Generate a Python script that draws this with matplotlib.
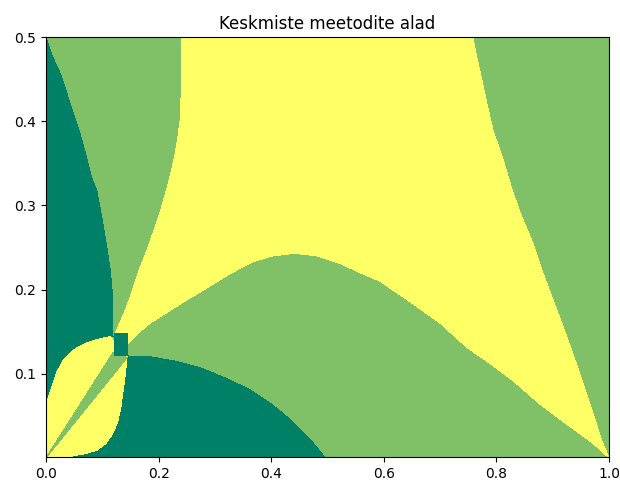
#!/usr/bin/env python3
"""Keskmiste meetodite alad: region map, regions traced as boundary polygons."""

import matplotlib

matplotlib.use("Agg")
import matplotlib.pyplot as plt
import numpy as np

# colour level of each region on the 'summer' colormap
LEVEL_DARK = 0.0
LEVEL_MID = 0.5
LEVEL_LIGHT = 1.0

# left dark wedge: outer curve from (0, 0.5) down to the small square
left_dark_x = [0.0, 0.010, 0.025, 0.037, 0.048, 0.060, 0.072, 0.081, 0.090, 0.099,
               0.108, 0.114, 0.118, 0.118, 0.119]
left_dark_y = [0.5, 0.479, 0.457, 0.433, 0.410, 0.386, 0.357, 0.333, 0.318, 0.286,
               0.250, 0.223, 0.195, 0.163, 0.144]

# yellow lens near the origin: upper edge (from x = 0) and right edge (top to origin)
lens_top_x = [0.0, 0.004, 0.012, 0.020, 0.030, 0.042, 0.055, 0.070, 0.083, 0.100, 0.114]
lens_top_y = [0.056, 0.072, 0.088, 0.103, 0.115, 0.124, 0.131, 0.136, 0.139, 0.142, 0.144]
lens_right_x = [0.144, 0.141, 0.137, 0.133, 0.127, 0.118, 0.106, 0.090, 0.070, 0.045,
                0.020, 0.0]
lens_right_y = [0.120, 0.100, 0.080, 0.060, 0.042, 0.028, 0.017, 0.009, 0.005, 0.002,
                0.001, 0.0]

# thin mid-green band inside the lens
band_x = [0.0, 0.119, 0.144]
band_y = [0.0, 0.125, 0.119]

# small dark square where the regions meet
square_x = [0.121, 0.146]
square_y = [0.121, 0.148]

# central yellow region: left edge (top to bottom), hump (left to right), right edge (top to bottom)
yellow_left_x = [0.240, 0.240, 0.238, 0.234, 0.229, 0.223, 0.214, 0.202, 0.190, 0.179,
                 0.167, 0.155, 0.143, 0.131, 0.123]
yellow_left_y = [0.500, 0.430, 0.400, 0.380, 0.360, 0.342, 0.318, 0.290, 0.267, 0.246,
                 0.226, 0.202, 0.179, 0.160, 0.148]
hump_x = [0.146, 0.165, 0.185, 0.220, 0.256, 0.286, 0.327, 0.368, 0.403, 0.442, 0.481,
          0.522, 0.558, 0.593, 0.652, 0.700, 0.748, 0.789, 0.829, 0.877, 0.925, 0.972, 1.0]
hump_y = [0.136, 0.149, 0.160, 0.175, 0.190, 0.202, 0.219, 0.233, 0.240, 0.243, 0.240,
          0.231, 0.220, 0.210, 0.183, 0.160, 0.131, 0.112, 0.092, 0.064, 0.040, 0.017, 0.0]
yellow_right_x = [0.758, 0.765, 0.774, 0.783, 0.794, 0.812, 0.828, 0.844, 0.863, 0.883,
                  0.901, 0.916, 0.934, 0.954, 0.972, 0.987, 1.0]
yellow_right_y = [0.500, 0.476, 0.449, 0.421, 0.389, 0.354, 0.318, 0.288, 0.258, 0.219,
                  0.187, 0.160, 0.127, 0.088, 0.052, 0.020, 0.0]

# bottom dark region: upper edge from the square to the x axis
bottom_dark_x = [0.146, 0.185, 0.229, 0.274, 0.318, 0.362, 0.398, 0.433, 0.453, 0.474, 0.496]
bottom_dark_y = [0.121, 0.120, 0.115, 0.107, 0.095, 0.081, 0.065, 0.046, 0.032, 0.018, 0.0]

X_MIN, X_MAX = 0.0, 1.0
Y_MIN, Y_MAX = 0.001, 0.5


def patch(ax, xs, ys, level):
    cmap = plt.get_cmap("summer")
    ax.fill(xs, ys, color=cmap(level), linewidth=0, antialiased=False)


def main() -> None:
    fig = plt.figure(figsize=(6.2, 4.82), dpi=100)
    ax = fig.add_axes([0.0742, 0.0519, 0.9081, 0.8713])

    # background: mid green everywhere
    patch(ax, [X_MIN, X_MAX, X_MAX, X_MIN], [0.0, 0.0, Y_MAX, Y_MAX], LEVEL_MID)

    # central yellow region
    yx = yellow_left_x[::-1] + [yellow_left_x[0]] + yellow_right_x + hump_x[::-1]
    yy = yellow_left_y[::-1] + [Y_MAX] + yellow_right_y + hump_y[::-1]
    patch(ax, yx, yy, LEVEL_LIGHT)

    # bottom dark region
    patch(ax, bottom_dark_x + [0.0], bottom_dark_y + [0.0], LEVEL_DARK)

    # left dark wedge
    lx = left_dark_x + lens_top_x[::-1] + [0.0]
    ly = left_dark_y + lens_top_y[::-1] + [Y_MAX]
    patch(ax, lx, ly, LEVEL_DARK)

    # lens near the origin and the band inside it
    patch(ax, lens_top_x + lens_right_x, lens_top_y + lens_right_y, LEVEL_LIGHT)
    patch(ax, band_x, band_y, LEVEL_MID)

    # small square
    sx = [square_x[0], square_x[1], square_x[1], square_x[0]]
    sy = [square_y[0], square_y[0], square_y[1], square_y[1]]
    patch(ax, sx, sy, LEVEL_DARK)

    ax.set_xlim(X_MIN, X_MAX)
    ax.set_ylim(Y_MIN, Y_MAX)
    ax.set_xticks(np.arange(0, 1.01, 0.2))
    ax.set_yticks(np.arange(0.1, 0.51, 0.1))
    ax.set_title("Keskmiste meetodite alad")

    fig.savefig("out.png", dpi=100)
    plt.close(fig)


if __name__ == "__main__":
    main()
